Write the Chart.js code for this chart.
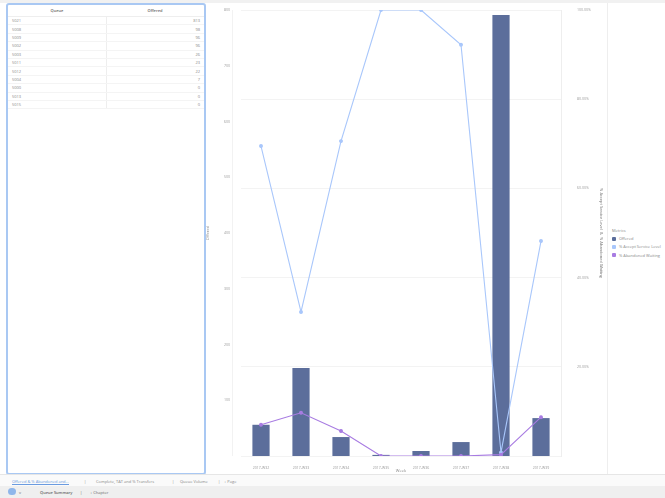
<!DOCTYPE html>
<html>
<head>
<meta charset="utf-8">
<script src="https://cdn.jsdelivr.net/npm/chart.js@4"></script>
<style>
  body { margin: 0; width: 665px; height: 498px; background: #fff; font-family: "Open Sans", sans-serif; color: #777; overflow: hidden; position: relative; }
  .topline { position: absolute; left: 0; top: 0; width: 665px; height: 3px; background: #f1f1f1; }
  #tableBox { position: absolute; left: 6px; top: 3px; width: 196px; height: 468px; border: 2px solid #a9c8f3; border-radius: 3px; }
  #tableBox table { border-collapse: collapse; width: 100%; font-size: 4px; table-layout: fixed; }
  #tableBox th { font-weight: 600; height: 9px; color: #666; border-bottom: 1px solid #eee; width: 50%; }
  #tableBox td { height: 7.4px; padding: 0 4px; border-bottom: 1px solid #f4f4f4; color: #888; }
  #tableBox td.num { text-align: right; border-left: 1px solid #eee; }
  #chartWrap { position: absolute; left: 205px; top: 0; width: 402px; height: 474px; }
  #chart { width: 402px; height: 474px; }
  .sep { position: absolute; left: 607px; top: 3px; width: 1px; height: 471px; background: #eee; }
  .vline { position: absolute; left: 232px; top: 10px; width: 1px; height: 446px; background: #f2f2f2; }
  #legend { position: absolute; left: 612px; top: 226px; font-size: 4px; color: #888; }
  #legend div { height: 8.4px; display: flex; align-items: center; }
  #legend span { display: inline-block; width: 4px; height: 4px; border-radius: 1px; margin-right: 3px; }
  .tabs { position: absolute; left: 0; top: 474px; width: 665px; height: 12px; background: #fafafa; border-top: 1px solid #e6e6e6; font-size: 4px; color: #888; }
  .tabs span { position: absolute; top: 4px; }
  .tabs2 { position: absolute; left: 0; top: 486px; width: 665px; height: 12px; background: #efefef; font-size: 4px; color: #666; }
  .tabs2 span { position: absolute; top: 4px; }
</style>
</head>
<body>
<div class="topline"></div>
<div id="tableBox"><table id="tbl"></table></div>
<div class="vline"></div>
<div id="chartWrap"><canvas id="chart" width="402" height="474"></canvas></div>
<div class="sep"></div>
<div id="legend"></div>
<div class="tabs">
  <span style="left:12px;color:#6a9be0;border-bottom:1px solid #6a9be0">Offered &amp; % Abandoned and...</span>
  <span style="left:84px">|</span>
  <span style="left:96px">Complete, TAT and % Transfers</span>
  <span style="left:172px">|</span>
  <span style="left:180px">Queue Volume</span>
  <span style="left:218px">|</span>
  <span style="left:224px">+ Page</span>
</div>
<div class="tabs2">
  <span style="left:8px;top:2px;width:8px;height:7px;border-radius:4px;background:#8fb6ea"></span>
  <span style="left:19px">v</span>
  <span style="left:40px;font-weight:600">Queue Summary</span>
  <span style="left:80px">|</span>
  <span style="left:90px">+ Chapter</span>
</div>
<script>
"use strict";
// table data
const queues = ['5021', '5008', '5009', '5002', '5003', '5011', '5012', '5004', '5000', '5013', '5015'];
const queueOffered = [813, 98, 96, 96, 26, 23, 22, 7, 0, 0, 0];

// chart data
const weeks = ['2017-W32', '2017-W33', '2017-W34', '2017-W35', '2017-W36', '2017-W37', '2017-W38', '2017-W39'];
const offered = [56, 158, 34, 2, 9, 25, 791, 68];
const acceptServiceLevel = [69.5, 32.3, 70.6, 100, 100, 92.2, 0.8, 48.2];
const abandonedWaiting = [7.0, 9.7, 5.6, 0, 0, 0, 0.3, 8.7];

const barColor = '#5c6e9b';
const blueColor = '#a9c7fb';
const purpleColor = '#a87ce2';

function buildTable() {
    const tbl = document.getElementById('tbl');
    let html = '<tr><th>Queue</th><th>Offered</th></tr>';
    queues.forEach((q, i) => {
        html += '<tr><td>' + q + '</td><td class="num">' + queueOffered[i] + '</td></tr>';
    });
    tbl.innerHTML = html;
}

function buildLegend() {
    const legend = document.getElementById('legend');
    const items = [['Offered', barColor], ['% Accept Service Level', blueColor], ['% Abandoned Waiting', purpleColor]];
    let html = '<div>Metrics</div>';
    items.forEach((item) => {
        html += '<div><span style="background:' + item[1] + '"></span>' + item[0] + '</div>';
    });
    legend.innerHTML = html;
}

buildTable();
buildLegend();

Chart.defaults.font.family = '"Open Sans", sans-serif';
Chart.defaults.font.size = 4;
Chart.defaults.color = '#888';

const context = document.getElementById('chart');
new Chart(context, {
    type: 'bar',
    data: {
        labels: weeks,
        datasets: [{
                type: 'line',
                label: '% Accept Service Level',
                data: acceptServiceLevel,
                yAxisID: 'y1',
                borderColor: blueColor,
                backgroundColor: blueColor,
                borderWidth: 1.1,
                pointRadius: 1.4,
                tension: 0,
                order: 1,
            }, {
                type: 'line',
                label: '% Abandoned Waiting',
                data: abandonedWaiting,
                yAxisID: 'y1',
                borderColor: purpleColor,
                backgroundColor: purpleColor,
                borderWidth: 1.1,
                pointRadius: 1.4,
                tension: 0,
                order: 0,
            }, {
                label: 'Offered',
                data: offered,
                yAxisID: 'y',
                backgroundColor: barColor,
                barPercentage: 0.43,
                categoryPercentage: 1,
                order: 2,
            }],
    },
    options: {
        responsive: false,
        maintainAspectRatio: false,
        animation: false,
        devicePixelRatio: 1,
        layout: { padding: { top: 10, left: 0, right: 0, bottom: 0 } },
        plugins: { legend: { display: false }, tooltip: { enabled: false } },
        scales: {
            x: {
                grid: { display: false },
                border: { display: false },
                ticks: { padding: 2, maxRotation: 0, autoSkip: false, color: '#999', font: { size: 3.5 } },
                title: { display: true, text: 'Week', padding: 1, color: '#888' },
                afterFit: (scale) => { scale.height = 18; },
            },
            y: {
                position: 'left',
                min: 0,
                max: 800,
                ticks: { stepSize: 100, callback: (v) => (v === 0 ? '' : v), color: '#999', font: { size: 3.5 } },
                grid: { display: false },
                border: { display: false },
                title: { display: true, text: 'Offered', padding: 0, color: '#888' },
                afterFit: (scale) => { scale.width = 36; scale.paddingTop = 2; scale.paddingBottom = 2; },
            },
            y1: {
                position: 'right',
                min: 0,
                max: 100,
                ticks: { stepSize: 20, callback: (v) => (v === 0 ? '' : v.toFixed(2) + '%'), color: '#999', padding: 16, font: { size: 3.5 } },
                grid: { color: '#f3f3f3', drawTicks: false },
                border: { display: true, color: '#eee' },
                title: { display: true, text: '% Accept Service Level  &  % Abandoned Waiting', padding: 3, color: '#777' },
                afterFit: (scale) => { scale.width = 46; scale.paddingTop = 2; scale.paddingBottom = 2; },
            },
        },
    },
});
</script>
</body>
</html>
